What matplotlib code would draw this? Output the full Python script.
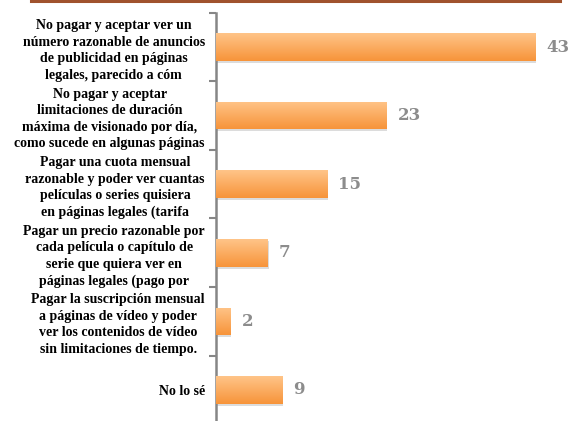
import matplotlib
matplotlib.use("Agg")
import matplotlib.pyplot as plt
import numpy as np
from matplotlib.colors import LinearSegmentedColormap

# answers (wrapped / cut off the way the original chart shows them)
labels = [
    "No pagar y aceptar ver un\nnúmero razonable de anuncios\nde publicidad en páginas\nlegales, parecido a cóm",
    "No pagar y aceptar\nlimitaciones de duración\nmáxima de visionado por día,\ncomo sucede en algunas páginas",
    "Pagar una cuota mensual\nrazonable y poder ver cuantas\npelículas o series quisiera\nen páginas legales (tarifa",
    "Pagar un precio razonable por\ncada película o capítulo de\nserie que quiera ver en\npáginas legales (pago por",
    "Pagar la suscripción mensual\na páginas de vídeo y poder\nver los contenidos de vídeo\nsin limitaciones de tiempo.",
    "No lo sé",
]
values = [43, 23, 15, 7, 2, 9]

fig = plt.figure(figsize=(5.68, 4.21), dpi=100)
ax = fig.add_axes([0.3803, -0.0078, 0.6197, 0.9776])

y = np.arange(len(values))
bars = ax.barh(y, values, height=0.4, color="#fbab5e", zorder=2)
ax.set_ylim(len(values) - 0.5, -0.5)
ax.set_xlim(0, 47.4)

# orange gradient inside each bar
cmap = LinearSegmentedColormap.from_list("org", ["#ffc488", "#f7943a"])
grad = np.linspace(0, 1, 64).reshape(-1, 1)
for b in bars:
    x0, y0 = b.get_x(), b.get_y()
    w, h = b.get_width(), b.get_height()
    im = ax.imshow(grad, cmap=cmap, aspect="auto", zorder=3,
                   extent=(x0, x0 + w, y0 + h, y0), origin="upper")
    im.set_clip_path(b)
    # faint shadow under the bar
    ax.barh(y0 + h / 2 + 0.03, w, height=h, left=0.08, color="#dcdcdc", zorder=1)

for yi, v in zip(y, values):
    ax.text(v + 1.45, yi, str(v), va="center", ha="left", fontsize=12,
            fontweight="bold", color="#8c8c8c", family="DejaVu Serif")

ax.set_yticks(y)
ax.set_yticklabels(labels, fontsize=10, fontweight="bold", family="Liberation Serif",
                   multialignment="center", linespacing=1.36)
ax.set_yticks(np.arange(len(values) + 1) - 0.5, minor=True)
ax.tick_params(axis="y", which="major", length=0, pad=8)
ax.tick_params(axis="y", which="minor", length=5, width=1.5, color="#868686")
ax.set_xticks([])
for s in ["top", "right", "bottom"]:
    ax.spines[s].set_visible(False)
ax.spines["left"].set_color("#868686")
ax.spines["left"].set_linewidth(1.8)

# brown rule at the top
fig.add_artist(plt.Line2D([31 / 568, 560 / 568], [0.9965, 0.9965],
                          color="#a0522d", lw=2.2))

fig.savefig("out.png", dpi=100)
